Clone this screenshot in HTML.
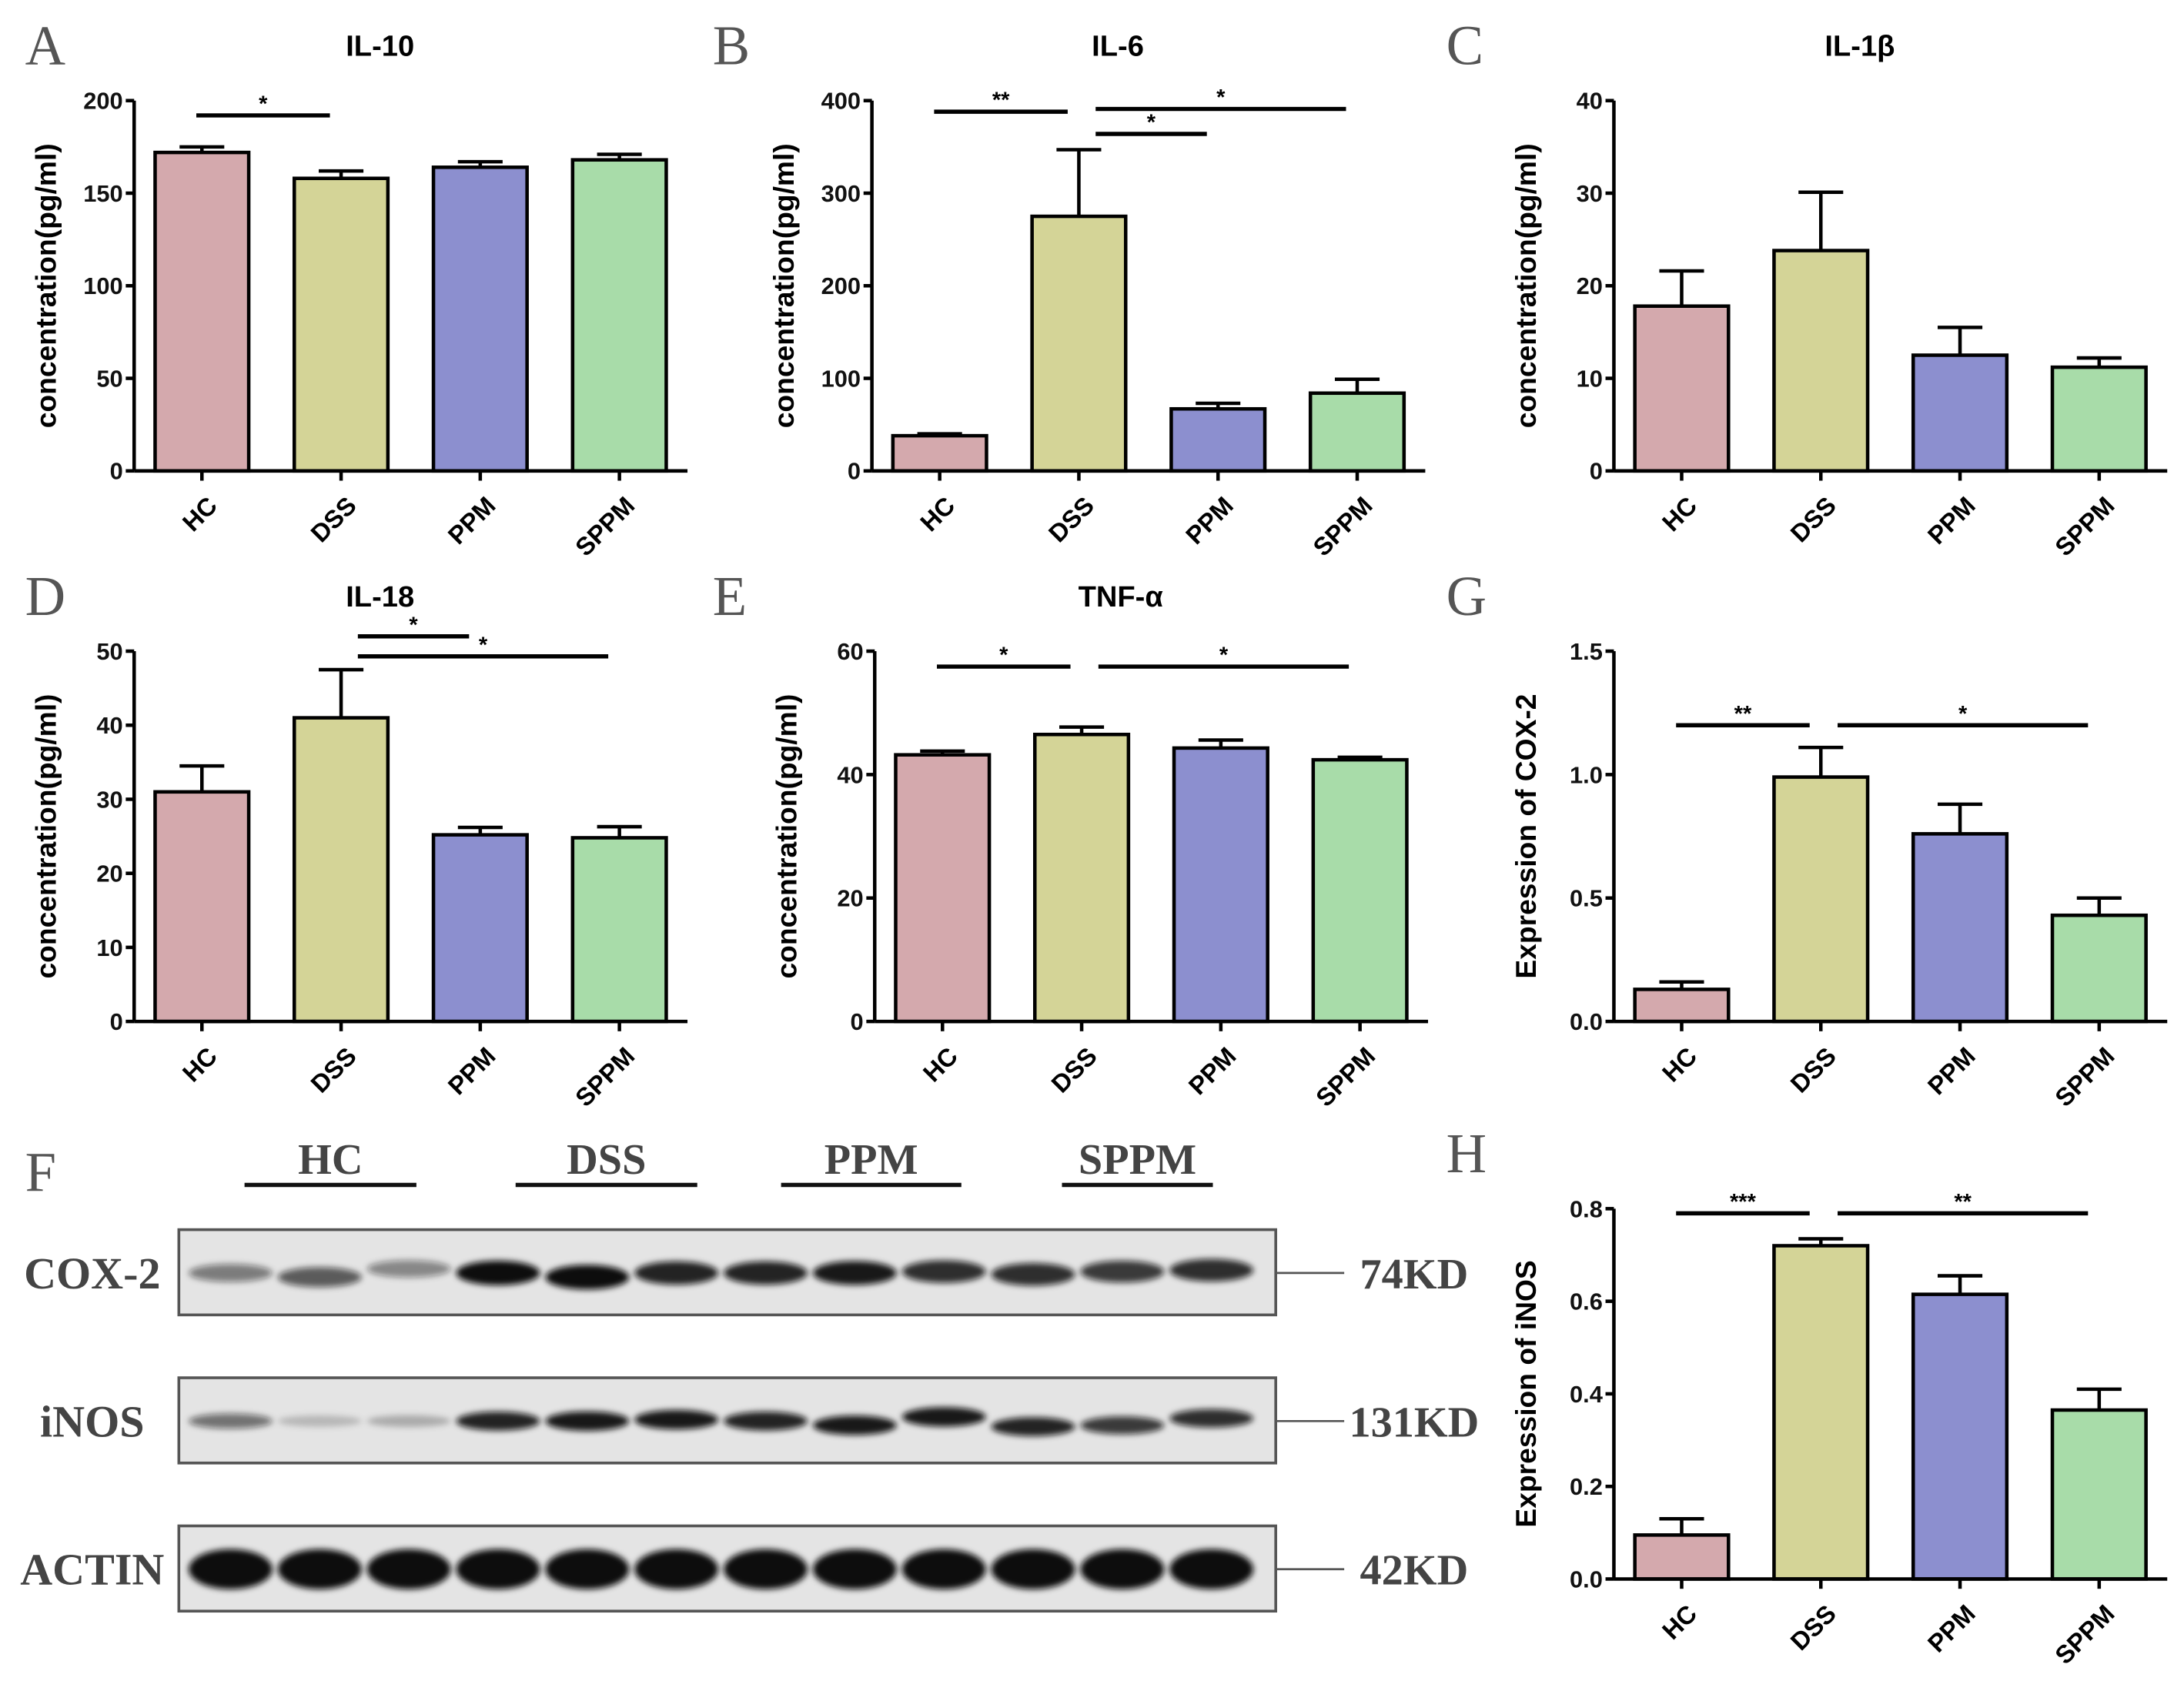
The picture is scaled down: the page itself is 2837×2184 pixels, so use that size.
<!DOCTYPE html>
<html><head><meta charset="utf-8"><style>
html,body{margin:0;padding:0;background:#fff;}
svg{display:block;}
</style></head><body>
<svg id="fig" xmlns="http://www.w3.org/2000/svg" width="2837" height="2184" viewBox="0 0 1563 1203" preserveAspectRatio="none" font-family="Liberation Sans, Arial, sans-serif">
<defs><filter id="blur" x="-30%" y="-80%" width="160%" height="260%"><feGaussianBlur stdDeviation="2.2"/></filter></defs>
</svg>
<script>
const categories = ["HC","DSS","PPM","SPPM"];
const colors = ["#d4a9ad","#d4d497","#8c8fcf","#a8dca9"];
const il10Values = [172,158,164,168];
const il10Errors = [3,4,3,3];
const il6Values = [38,275,67,84];
const il6Errors = [2,72,6,15];
const il1bValues = [17.8,23.8,12.5,11.2];
const il1bErrors = [3.8,6.3,3,1];
const il18Values = [31,41,25.2,24.8];
const il18Errors = [3.5,6.5,1,1.5];
const tnfValues = [43.2,46.5,44.3,42.4];
const tnfErrors = [0.6,1.2,1.3,0.4];
const cox2Values = [0.13,0.99,0.76,0.43];
const cox2Errors = [0.03,0.12,0.12,0.07];
const inosValues = [0.095,0.72,0.615,0.365];
const inosErrors = [0.035,0.015,0.04,0.045];
const il10Ticks = [0,50,100,150,200];
const il6Ticks = [0,100,200,300,400];
const il1bTicks = [0,10,20,30,40];
const il18Ticks = [0,10,20,30,40,50];
const tnfTicks = [0,20,40,60];
const cox2Ticks = ["0.0","0.5","1.0","1.5"];
const inosTicks = ["0.0","0.2","0.4","0.6","0.8"];
// significance: [fromIndex, toIndex, value-level, label]
const il10Sig = [[0,1,192,"*"]];
const il6Sig = [[0,1,388,"**"],[1,3,391,"*"],[1,2,364,"*"]];
const il18Sig = [[1,2,52,"*"],[1,3,49.3,"*"]];
const tnfSig = [[0,1,57.5,"*"],[1,3,57.5,"*"]];
const cox2Sig = [[0,1,1.2,"**"],[1,3,1.2,"*"]];
const inosSig = [[0,1,0.79,"***"],[1,3,0.79,"**"]];
// western blot band intensities (0-1) per lane
const bandLanes = 12;
const cox2Bands = [0.5,0.65,0.45,1,1,0.9,0.9,0.95,0.85,0.85,0.8,0.85];
const inosBands = [0.55,0.2,0.25,0.9,0.95,0.95,0.9,0.95,0.95,0.9,0.8,0.85];
const actinBands = [1,1,1,1,1,1,1,1,1,1,1,1];
const cox2Offsets = [0,3,-3,0,3,0,0,0,-1,1,-1,-2];
const inosOffsets = [0,0,0,0,0,-1,0,3,-3,4,3,-2];

const svg = document.getElementById('fig');
const NS = "http://www.w3.org/2000/svg";
const SERIF = "Liberation Serif, serif";
function mk(tag, attrs, parent){const e=document.createElementNS(NS,tag);for(const k in attrs)e.setAttribute(k,attrs[k]);(parent||svg).appendChild(e);return e;}
function txt(s, attrs, parent){const e=mk('text',attrs,parent);e.textContent=s;return e;}

function panel(p){
  const g = mk('g',{});
  
  
  const ticks = p.ticks.map(Number);
  const max = ticks[ticks.length-1];
  const y = v => p.yBot - (v/max)*(p.yBot-p.yTop);
  const bx = i => p.ax + 15 + i*99.6;
  const bw = 67;
  const L = txt(p.letter,{x:p.letterX,y:p.yTop-26,'font-family':SERIF,'font-size':40,fill:'#555'},g);
  
  
  if(p.title){
    const t = txt(p.title,{x:p.ax+176,y:p.yTop-32,'font-size':21,'font-weight':'bold','text-anchor':'middle'},g);
    
    
  }
  const ya = mk('line',{x1:p.ax,y1:p.yTop,x2:p.ax,y2:p.yBot,stroke:'#000','stroke-width':2.5},g);
  
  
  p.ticks.forEach((t)=>{
    const yy=y(Number(t));
    mk('line',{x1:p.ax-6,y1:yy,x2:p.ax,y2:yy,stroke:'#000','stroke-width':2.5},g);
    const tl = txt(String(t),{x:p.ax-8,y:yy+6,'font-size':17,'font-weight':'bold','text-anchor':'end',fill:'#111'},g);
    
    
  });
  const yt = txt(p.ylabel,{x:0,y:0,'font-size':20.5,'font-weight':'bold','text-anchor':'middle',transform:`translate(${p.ax-56},${(p.yTop+p.yBot)/2}) rotate(-90)`},g);
  
  
  p.values.forEach((v,i)=>{
    const x=bx(i), top=y(v), et=y(v+p.errors[i]), cx=x+bw/2;
    mk('line',{x1:cx,y1:top,x2:cx,y2:et,stroke:'#000','stroke-width':2.5},g);
    mk('line',{x1:cx-16,y1:et,x2:cx+16,y2:et,stroke:'#000','stroke-width':2.5},g);
    const r = mk('rect',{x:x,y:top,width:bw,height:p.yBot-top,fill:colors[i],stroke:'#000','stroke-width':2.5},g);
    
    
    mk('line',{x1:cx,y1:p.yBot,x2:cx,y2:p.yBot+7,stroke:'#000','stroke-width':2.5},g);
    const xl = txt(categories[i],{x:0,y:0,'font-size':18,'font-weight':'bold','text-anchor':'end',transform:`translate(${cx+12},${p.yBot+26}) rotate(-45)`},g);
    
    
  });
  const xa = mk('line',{x1:p.ax,y1:p.yBot,x2:p.ax+396,y2:p.yBot,stroke:'#000','stroke-width':2.5},g);
  
  
  (p.sig||[]).forEach(s=>{
    const x1=bx(s[0])+bw/2+ (s[0]===1?12:-4), x2=bx(s[1])+bw/2-8, yy=y(s[2]);
    const sl = mk('line',{x1:x1,y1:yy,x2:x2,y2:yy,stroke:'#000','stroke-width':3},g);
    
    
    const st = txt(s[3],{x:(x1+x2)/2,y:yy-3,'font-size':16,'font-weight':'bold','text-anchor':'middle'},g);
    
    
  });
}
const conc = "concentration(pg/ml)";
panel({name:'panel-a-il10',letter:'A',letterX:18,title:'IL-10',ax:96,yTop:72,yBot:337,ticks:il10Ticks,values:il10Values,errors:il10Errors,ylabel:conc,sig:il10Sig});
panel({name:'panel-b-il6',letter:'B',letterX:510,title:'IL-6',ax:624,yTop:72,yBot:337,ticks:il6Ticks,values:il6Values,errors:il6Errors,ylabel:conc,sig:il6Sig});
panel({name:'panel-c-il1b',letter:'C',letterX:1035,title:'IL-1β',ax:1155,yTop:72,yBot:337,ticks:il1bTicks,values:il1bValues,errors:il1bErrors,ylabel:conc});
panel({name:'panel-d-il18',letter:'D',letterX:18,title:'IL-18',ax:96,yTop:466,yBot:731,ticks:il18Ticks,values:il18Values,errors:il18Errors,ylabel:conc,sig:il18Sig});
panel({name:'panel-e-tnf',letter:'E',letterX:510,title:'TNF-α',ax:626,yTop:466,yBot:731,ticks:tnfTicks,values:tnfValues,errors:tnfErrors,ylabel:conc,sig:tnfSig});
panel({name:'panel-g-cox2',letter:'G',letterX:1035,title:'',ax:1155,yTop:466,yBot:731,ticks:cox2Ticks,values:cox2Values,errors:cox2Errors,ylabel:'Expression of COX-2',sig:cox2Sig});
panel({name:'panel-h-inos',letter:'H',letterX:1035,title:'',ax:1155,yTop:865,yBot:1130,ticks:inosTicks,values:inosValues,errors:inosErrors,ylabel:'Expression of iNOS',sig:inosSig});

const wb = mk('g',{});


const fL = txt('F',{x:18,y:852,'font-family':SERIF,'font-size':40,fill:'#555'},wb);


const groupX = [[175,298],[369,499],[559,688],[760,868]];
categories.forEach((c,i)=>{
  const [a,b]=groupX[i];
  const t = txt(c,{x:(a+b)/2,y:840,'font-family':SERIF,'font-size':31,'font-weight':'bold','text-anchor':'middle',fill:'#444'},wb);
  
  
  mk('line',{x1:a,y1:848,x2:b,y2:848,stroke:'#111','stroke-width':3},wb);
});
const rows = [["COX-2","74KD",880,cox2Bands,cox2Offsets,16],["iNOS","131KD",986,inosBands,inosOffsets,13],["ACTIN","42KD",1092,actinBands,null,26]];
rows.forEach(r=>{
  const [name,kd,top,bands,offs,h] = r;
  const rg = mk('g',{},wb);
  
  
  mk('rect',{x:128,y:top,width:785,height:61,fill:'#e4e4e4',stroke:'#555','stroke-width':2},rg);
  for(let i=0;i<bandLanes;i++){
    const cx = 165 + i*(867-165)/11;
    const v = bands[i];
    const dy = offs?offs[i]:0;
    mk('ellipse',{cx:cx,cy:top+31+dy,rx:30,ry:h/2*(0.5+0.6*v),fill:'#111','fill-opacity':v,filter:'url(#blur)'},rg);
  }
  const lab = txt(name,{x:66,y:top+42,'font-family':SERIF,'font-size':32,'font-weight':'bold','text-anchor':'middle',fill:'#444'},rg);
  
  
  mk('line',{x1:913,y1:top+31,x2:962,y2:top+31,stroke:'#555','stroke-width':1.5},rg);
  const k = txt(kd,{x:1012,y:top+42,'font-family':SERIF,'font-size':31,'font-weight':'bold','text-anchor':'middle',fill:'#444'},rg);
  
  
});
</script>
</body></html>
